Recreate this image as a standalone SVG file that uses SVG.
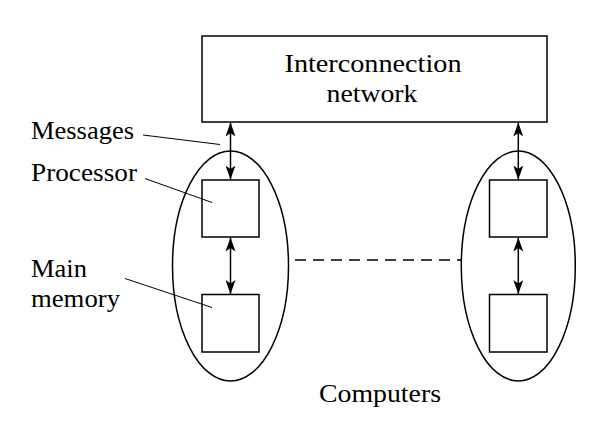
<svg xmlns="http://www.w3.org/2000/svg" width="602" height="437" viewBox="0 0 602 437">
<style>
.box{fill:#fff;stroke:#000;stroke-width:1.5}
.ell{fill:none;stroke:#000;stroke-width:1.5}
.conn{stroke:#000;stroke-width:1.5;fill:none}
.lead{stroke:#000;stroke-width:1;fill:none}
.dash{stroke:#000;stroke-width:1.5;stroke-dasharray:11,7;fill:none}
.t{font-family:'Liberation Serif','Times New Roman',serif;font-size:25px;fill:#000}
</style>
<defs>
<marker id="ah" viewBox="0 0 14 10" refX="14" refY="5" markerWidth="14" markerHeight="10" markerUnits="userSpaceOnUse" orient="auto-start-reverse">
<path d="M0,0 L14,5 L0,10 L3.5,5 Z" fill="#000"/>
</marker>
</defs>
<rect width="602" height="437" fill="#fff"/>
<g id="network">
<rect class="box" x="202" y="36" width="345" height="86"/>
<text class="t" x="373" y="72" text-anchor="middle" textLength="177" lengthAdjust="spacingAndGlyphs">Interconnection</text>
<text class="t" x="372" y="102" text-anchor="middle" textLength="91" lengthAdjust="spacingAndGlyphs">network</text>
</g>
<g id="computer1">
<ellipse class="ell" cx="230.5" cy="266" rx="58" ry="115"/>
<rect class="box" x="202" y="180" width="57" height="57"/>
<rect class="box" x="202" y="294.5" width="57" height="57.5"/>
</g>
<g id="computer2">
<ellipse class="ell" cx="518.3" cy="266" rx="57" ry="115"/>
<rect class="box" x="489.5" y="180" width="57.5" height="57"/>
<rect class="box" x="489.5" y="294.5" width="57.5" height="57.5"/>
</g>
<g id="labels">
<text class="t" x="31" y="138.5" textLength="103" lengthAdjust="spacingAndGlyphs">Messages</text>
<text class="t" x="31" y="181" textLength="106" lengthAdjust="spacingAndGlyphs">Processor</text>
<text class="t" x="31" y="277" textLength="56" lengthAdjust="spacingAndGlyphs">Main</text>
<text class="t" x="31" y="307" textLength="89" lengthAdjust="spacingAndGlyphs">memory</text>
<text class="t" x="380" y="402" text-anchor="middle" textLength="122" lengthAdjust="spacingAndGlyphs">Computers</text>
</g>
<g id="connectors">
<line class="conn" x1="230.5" y1="122.5" x2="230.5" y2="179.5" marker-start="url(#ah)" marker-end="url(#ah)"/>
<line class="conn" x1="230.5" y1="237.5" x2="230.5" y2="294" marker-start="url(#ah)" marker-end="url(#ah)"/>
<line class="conn" x1="518.3" y1="122.5" x2="518.3" y2="179.5" marker-start="url(#ah)" marker-end="url(#ah)"/>
<line class="conn" x1="518.3" y1="237.5" x2="518.3" y2="294" marker-start="url(#ah)" marker-end="url(#ah)"/>
<line class="dash" x1="295" y1="260" x2="461" y2="260"/>
<line class="lead" x1="143" y1="135" x2="220" y2="144.5"/>
<line class="lead" x1="145" y1="178.5" x2="212" y2="202.5"/>
<line class="lead" x1="125" y1="278.5" x2="212" y2="307.5"/>
</g>
</svg>
